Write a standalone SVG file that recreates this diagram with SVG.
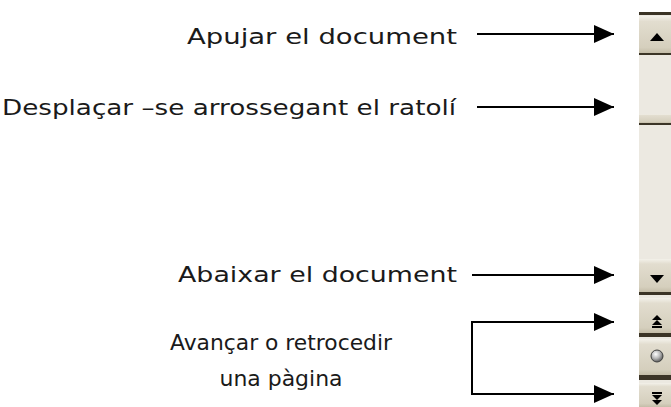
<svg xmlns="http://www.w3.org/2000/svg" width="671" height="407" viewBox="0 0 671 407">
<defs>
<marker id="ah" markerWidth="20" markerHeight="18" refX="20" refY="9" orient="auto" markerUnits="userSpaceOnUse">
<path d="M0,0 L20,9 L0,18 Z" fill="#000"/>
</marker>
<linearGradient id="btn" x1="0" y1="0" x2="0" y2="1">
<stop offset="0" stop-color="#F3F1EA"/>
<stop offset="0.15" stop-color="#E2DDCF"/>
<stop offset="0.85" stop-color="#D5CFBD"/>
<stop offset="1" stop-color="#C4BDA8"/>
</linearGradient>
<radialGradient id="ball" cx="0.4" cy="0.35" r="0.7">
<stop offset="0" stop-color="#FFFFFF"/>
<stop offset="0.5" stop-color="#B8B8B8"/>
<stop offset="1" stop-color="#505050"/>
</radialGradient>
</defs>
<style>
.lbl{font-family:"DejaVu Sans","Liberation Sans",Arial,sans-serif;font-size:21px;fill:#1a1a1a;}
.con{stroke:#000;stroke-width:2;fill:none;}
.btn{fill:url(#btn);}
.dk{fill:#3B3426;}
.glyph{fill:#000;}
</style>
<rect width="671" height="407" fill="#fff"/>
<g id="scrollbar">
<rect x="639" y="12" width="32" height="395" fill="#ECE9E1"/>
<rect class="dk" x="639" y="12" width="32" height="3"/>
<rect class="btn" x="639" y="16" width="32" height="37"/>
<rect class="dk" x="639" y="53" width="32" height="2"/>
<polygon class="glyph" points="650,41 657,33 664,41"/>
<rect class="btn" x="639" y="114" width="32" height="9"/>
<rect class="dk" x="639" y="123" width="32" height="2"/>
<rect class="btn" x="639" y="259" width="32" height="33"/>
<rect class="dk" x="639" y="292" width="32" height="3"/>
<polygon class="glyph" points="650,275 664,275 657,283"/>
<rect class="btn" x="639" y="298" width="32" height="35"/>
<rect class="dk" x="639" y="333" width="32" height="4"/>
<polygon class="glyph" points="652,320 657,315 662,320"/>
<polygon class="glyph" points="652,325 657,320 662,325"/>
<rect class="glyph" x="652" y="326" width="10" height="2"/>
<rect class="btn" x="639" y="339" width="32" height="36"/>
<rect class="dk" x="639" y="375" width="32" height="5"/>
<circle cx="657" cy="356" r="6" fill="url(#ball)" stroke="#404040" stroke-width="1"/>
<rect class="btn" x="639" y="383" width="32" height="24"/>
<rect class="glyph" x="652" y="392" width="10" height="2"/>
<polygon class="glyph" points="652,395 662,395 657,400"/>
<polygon class="glyph" points="652,400 662,400 657,405"/>
</g>
<g id="labels">
<text id="t1" class="lbl" x="457" y="44" text-anchor="end" textLength="270" lengthAdjust="spacingAndGlyphs">Apujar el document</text>
<text id="t2" class="lbl" x="456" y="115" text-anchor="end" textLength="454" lengthAdjust="spacingAndGlyphs">Desplaçar –se arrossegant el ratolí</text>
<text id="t3" class="lbl" x="457" y="282" text-anchor="end" textLength="279" lengthAdjust="spacingAndGlyphs">Abaixar el document</text>
<text id="t4" class="lbl" x="281" y="350" text-anchor="middle" textLength="222" lengthAdjust="spacingAndGlyphs">Avançar o retrocedir</text>
<text id="t5" class="lbl" x="281" y="386" text-anchor="middle" textLength="123" lengthAdjust="spacingAndGlyphs">una pàgina</text>
</g>
<g id="connectors">
<line class="con" x1="477" y1="34" x2="614" y2="34" marker-end="url(#ah)"/>
<line class="con" x1="477" y1="107" x2="614" y2="107" marker-end="url(#ah)"/>
<line class="con" x1="472" y1="275" x2="614" y2="275" marker-end="url(#ah)"/>
<polyline class="con" points="614,322 472,322 472,394 614,394" marker-end="url(#ah)"/>
<line class="con" x1="472" y1="322" x2="614" y2="322" marker-end="url(#ah)"/>
</g>
</svg>
